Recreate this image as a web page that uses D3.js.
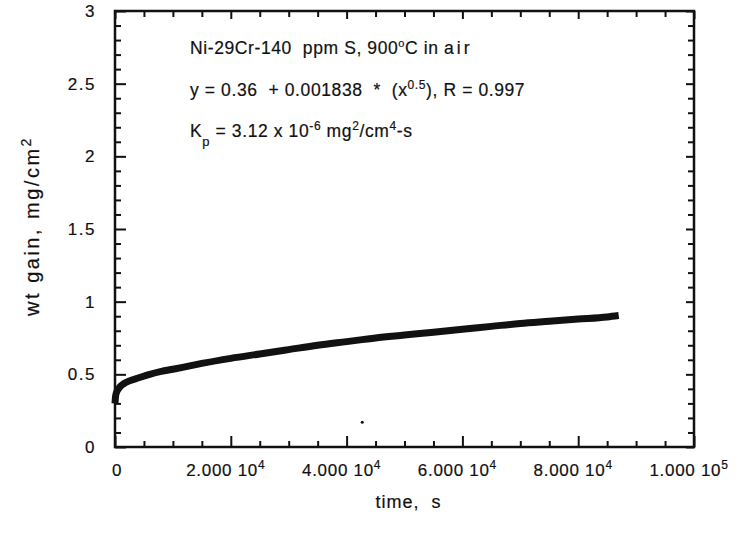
<!DOCTYPE html>
<html>
<head>
<meta charset="utf-8">
<script src="https://cdn.jsdelivr.net/npm/d3@7"></script>
<style>
  body { margin: 0; background: #fff; }
  svg { display: block; }
  text { font-family: "Liberation Sans", Arial, sans-serif; fill: #111; stroke: #111; stroke-width: 0.2px; white-space: pre; }
</style>
</head>
<body>
<div id="chart"></div>
<script>
// DATA /////////////////////////////////////
var timeValues = [0, 100, 300, 600, 1000, 1500, 2500, 4000, 6000, 8000, 10000, 12500, 15000,
  20000, 25000, 30000, 35000, 40000, 45000, 50000, 55000, 60000, 65000, 70000, 75000, 80000, 85000, 87000];
var gainValues = [0.30, 0.35, 0.38, 0.40, 0.42, 0.435, 0.455, 0.475, 0.50, 0.52, 0.535, 0.555, 0.575,
  0.61, 0.64, 0.67, 0.70, 0.725, 0.75, 0.77, 0.79, 0.81, 0.83, 0.85, 0.865, 0.88, 0.895, 0.905];
var strayTime = [42700];
var strayGain = [0.17];

var xMajorTicks = [0, 20000, 40000, 60000, 80000, 100000];
var xTickMantissa = ["0", "2.000", "4.000", "6.000", "8.000", "1.000"];
var xTickExponent = ["", "4", "4", "4", "4", "5"];
var yMajorTicks = [0, 0.5, 1, 1.5, 2, 2.5, 3];
var yTickLabels = ["0", "0.5", "1", "1.5", "2", "2.5", "3"];

// PAGE SETUP //////////////////////////////////////////////////////
var width = 748, height = 537;
var leftPad = 115, rightPad = 54, topPad = 11, bottomPad = 90;
var graphWidth = width - leftPad - rightPad;
var graphHeight = height - topPad - bottomPad;

var svg = d3.select("#chart").append("svg")
  .attr("width", width).attr("height", height);

var x = d3.scaleLinear().domain([0, 100000]).range([leftPad, leftPad + graphWidth]);
var y = d3.scaleLinear().domain([0, 3]).range([topPad + graphHeight, topPad]);

var xMinor = d3.range(0, 100001, 5000).filter(function(d){ return d % 20000 !== 0; });
var yMinor = d3.range(0, 31).map(function(d){ return d / 10; }).filter(function(d){ return Math.round(d * 10) % 5 !== 0; });

function tickAxis(axisFn, scale, values, size, transform){
  var g = svg.append("g").attr("transform", transform)
    .call(axisFn(scale).tickValues(values).tickSize(size).tickFormat(""));
  g.select(".domain").remove();
  g.selectAll("line").attr("stroke", "#111").attr("stroke-width", 2);
}

// BOTTOM / TOP
tickAxis(d3.axisBottom, x, xMajorTicks, -11, "translate(0," + y(0) + ")");
tickAxis(d3.axisBottom, x, xMinor, -6, "translate(0," + y(0) + ")");
tickAxis(d3.axisTop, x, xMajorTicks, -8, "translate(0," + y(3) + ")");
tickAxis(d3.axisTop, x, xMinor, -6, "translate(0," + y(3) + ")");
// LEFT / RIGHT
tickAxis(d3.axisLeft, y, yMajorTicks, -11, "translate(" + x(0) + ",0)");
tickAxis(d3.axisLeft, y, yMinor, -6, "translate(" + x(0) + ",0)");
tickAxis(d3.axisRight, y, yMajorTicks, -8, "translate(" + x(100000) + ",0)");
tickAxis(d3.axisRight, y, yMinor, -6, "translate(" + x(100000) + ",0)");

// FRAME
svg.append("rect")
  .attr("x", x(0)).attr("y", y(3))
  .attr("width", x(100000) - x(0)).attr("height", y(0) - y(3))
  .attr("fill", "none").attr("stroke", "#111").attr("stroke-width", 2.5);

// TICK LABELS
svg.append("g").selectAll("text").data(yMajorTicks)
  .enter().append("text")
  .attr("x", leftPad - 19)
  .attr("y", function(d){ return y(d) + 6; })
  .attr("text-anchor", "end")
  .style("font-size", "17px").style("letter-spacing", "1.5px")
  .text(function(d,i){ return yTickLabels[i]; });

var xLabels = svg.append("g").selectAll("text").data(xMajorTicks)
  .enter().append("text")
  .attr("x", function(d,i){ return i === 0 ? x(d) + 2 : x(d) - 5; })
  .attr("y", y(0) + 29)
  .attr("text-anchor", "middle")
  .style("font-size", "17px").style("letter-spacing", "0.7px");
xLabels.append("tspan").text(function(d,i){ return i === 0 ? "0" : xTickMantissa[i] + " 10"; });
xLabels.append("tspan").attr("dy", -7).style("font-size", "12px")
  .text(function(d,i){ return xTickExponent[i]; });

// AXIS TITLES
svg.append("text")
  .attr("x", x(50000) + 4).attr("y", y(0) + 61)
  .attr("text-anchor", "middle")
  .style("font-size", "18px").style("letter-spacing", "1px")
  .text("time,  s");

var yTitle = svg.append("text")
  .attr("transform", "translate(39," + (y(1.5) - 3) + ") rotate(-90)")
  .attr("text-anchor", "middle")
  .style("font-size", "20px").style("letter-spacing", "2.5px");
yTitle.append("tspan").text("wt gain, mg/cm");
yTitle.append("tspan").attr("dy", -8).style("font-size", "14px").text("2");

// ANNOTATION
var notes = svg.append("g").style("font-size", "17.5px").style("letter-spacing", "0.6px");
var n1 = notes.append("text").attr("x", 190).attr("y", 54);
n1.append("tspan").text("Ni-29Cr-140  ppm S, 900");
n1.append("tspan").attr("dy", -7).style("font-size", "11px").text("o");
n1.append("tspan").attr("dy", 7).text("C in ");
n1.append("tspan").style("letter-spacing", "3px").text("air");

var n2 = notes.append("text").attr("x", 190).attr("y", 96);
n2.append("tspan").text("y = 0.36  + 0.001838  *  (x");
n2.append("tspan").attr("dy", -7).style("font-size", "12px").text("0.5");
n2.append("tspan").attr("dy", 7).text("), R = 0.997");

var n3 = notes.append("text").attr("x", 190).attr("y", 137);
n3.append("tspan").text("K");
n3.append("tspan").attr("dy", 9).style("font-size", "13px").text("p");
n3.append("tspan").attr("dy", -9).text(" = 3.12 x 10");
n3.append("tspan").attr("dy", -7).style("font-size", "12px").text("-6");
n3.append("tspan").attr("dy", 7).text(" mg");
n3.append("tspan").attr("dy", -7).style("font-size", "12px").text("2");
n3.append("tspan").attr("dy", 7).text("/cm");
n3.append("tspan").attr("dy", -7).style("font-size", "12px").text("4");
n3.append("tspan").attr("dy", 7).text("-s");

// DATA BAND
var points = timeValues.map(function(t, i){ return [t, gainValues[i]]; });
var line = d3.line()
  .x(function(d){ return x(d[0]); })
  .y(function(d){ return y(d[1]); })
  .curve(d3.curveMonotoneX);

svg.append("path").datum(points)
  .attr("d", line)
  .attr("fill", "none").attr("stroke", "#111")
  .attr("stroke-width", 7).attr("stroke-linecap", "butt");

svg.append("g").selectAll("circle").data(strayTime)
  .enter().append("circle")
  .attr("cx", function(d){ return x(d); })
  .attr("cy", function(d,i){ return y(strayGain[i]); })
  .attr("r", 1.5).attr("fill", "#111");
</script>
</body>
</html>
